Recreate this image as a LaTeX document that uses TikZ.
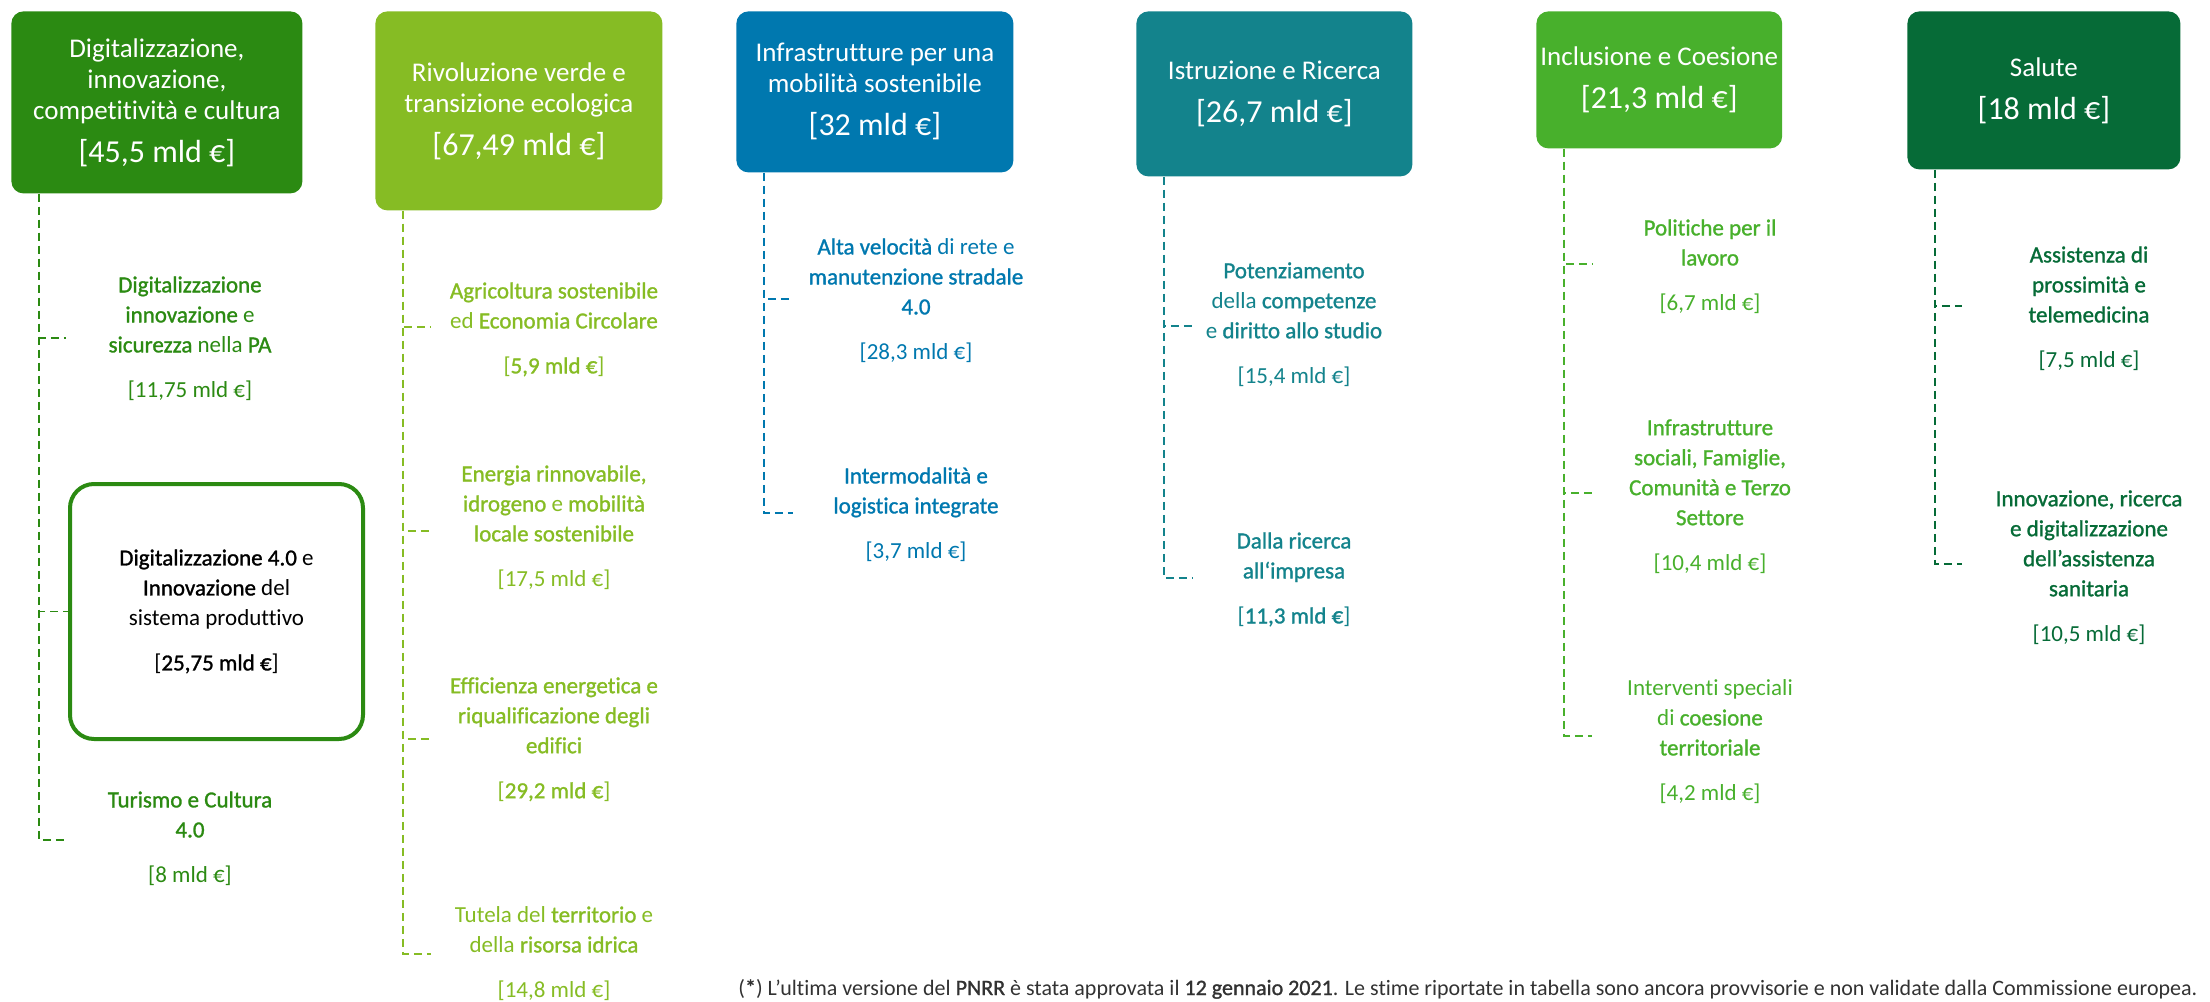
\documentclass[tikz,border=0pt]{standalone}
\usepackage{fontspec}
\setmainfont{Carlito}[Ligatures=NoCommon]
\newfontfamily\heavyfont[FakeBold=1.2, Ligatures=NoCommon]{Carlito}
\newcommand{\hi}[1]{{\heavyfont #1}}
\newcommand{\amt}[1]{{\fontsize{16}{19}\selectfont #1}}
\usepackage{tikz}
\usetikzlibrary{positioning}
\definecolor{digi}{RGB}{43,138,18}
\definecolor{verde}{RGB}{134,188,36}
\definecolor{mobi}{RGB}{0,120,175}
\definecolor{istr}{RGB}{19,131,140}
\definecolor{incl}{RGB}{72,176,44}
\definecolor{salu}{RGB}{6,107,55}
\definecolor{note}{RGB}{50,50,50}
\tikzset{
        mission/.style={rounded corners=6pt, fill=#1, text=white, align=center,
                        anchor=north west, inner sep=2pt,
                        font=\fontsize{13.5}{15.5}\selectfont},
        item/.style={text=#1, align=center, anchor=north, inner sep=0pt,
                     font=\fontsize{11.5}{15}\selectfont},
        focus/.style={draw=digi, line width=2pt, rounded corners=12pt, fill=white,
                      align=center, anchor=north west, minimum width=146.5pt,
                      minimum height=127.5pt, font=\fontsize{11.5}{15}\selectfont},
        link/.style={draw=#1, dash pattern=on 4pt off 2.5pt, line width=0.9pt},
 }

\begin{document}
\begin{tikzpicture}[x=0.5pt, y=-0.5pt]
    \useasboundingbox (0,0) rectangle (2210,1001);

    % missioni
    \node[mission=digi, minimum width=145.5pt, minimum height=91pt] (b1) at (11,11)
        {Digitalizzazione,\\ innovazione,\\ competitività e cultura\\[6pt] \amt{[45,5 mld €]}};
    \node[mission=verde, minimum width=143.5pt, minimum height=99.5pt] (b2) at (375,11)
        {Rivoluzione verde e\\ transizione ecologica\\[6pt] \amt{[67,49 mld €]}};
    \node[mission=mobi, minimum width=138.5pt, minimum height=80.5pt] (b3) at (736,11)
        {Infrastrutture per una\\ mobilità sostenibile\\[6pt] \amt{[32 mld €]}};
    \node[mission=istr, minimum width=138pt, minimum height=82.5pt] (b4) at (1136,11)
        {Istruzione e Ricerca\\[6pt] \amt{[26,7 mld €]}};
    \node[mission=incl, minimum width=101pt, minimum height=68.5pt] (b5) at (1536,11)
        {Inclusione e Coesione\\[6pt] \amt{[21,3 mld €]}};
    \node[mission=salu, minimum width=136.5pt, minimum height=79pt] (b6) at (1907,11)
        {Salute\\[6pt] \amt{[18 mld €]}};

    % componenti
    \node[item=digi] (i11) at (190,276)
        {\hi{Digitalizzazione}\\ \hi{innovazione} e\\ \hi{sicurezza} nella \hi{PA}\\[7.5pt] [11,75 mld €]};
    \node[focus] (i12) at (68,482)
        {\hi{Digitalizzazione 4.0} e\\ \hi{Innovazione} del\\ sistema produttivo\\[7.5pt] [\hi{25,75 mld €}]};
    \node[item=digi] (i13) at (190,791)
        {\hi{Turismo e Cultura}\\ \hi{4.0}\\[7.5pt] [8 mld €]};

    \node[item=verde] (i21) at (554,282)
        {\hi{Agricoltura sostenibile}\\ ed \hi{Economia Circolare}\\[7.5pt] [\hi{5,9 mld €}]};
    \node[item=verde] (i22) at (554,465)
        {\hi{Energia rinnovabile,}\\ \hi{idrogeno} e \hi{mobilità}\\ \hi{locale sostenibile}\\[7.5pt] [17,5 mld €]};
    \node[item=verde] (i23) at (554,677)
        {\hi{Efficienza energetica e}\\ \hi{riqualificazione degli}\\ \hi{edifici}\\[7.5pt] [\hi{29,2 mld €}]};
    \node[item=verde] (i24) at (554,906)
        {Tutela del \hi{territorio} e\\ della \hi{risorsa idrica}\\[7.5pt] [14,8 mld €]};

    \node[item=mobi] (i31) at (916,238)
        {\hi{Alta velocità} di rete e\\ \hi{manutenzione stradale}\\ \hi{4.0}\\[7.5pt] [28,3 mld €]};
    \node[item=mobi] (i32) at (916,467)
        {\hi{Intermodalità e}\\ \hi{logistica integrate}\\[7.5pt] [3,7 mld €]};

    \node[item=istr] (i41) at (1294,262)
        {\hi{Potenziamento}\\ della \hi{competenze}\\ e \hi{diritto allo studio}\\[7.5pt] [15,4 mld €]};
    \node[item=istr] (i42) at (1294,532)
        {\hi{Dalla ricerca}\\ \hi{all‘impresa}\\[7.5pt] [\hi{11,3 mld €}]};

    \node[item=incl] (i51) at (1710,219)
        {\hi{Politiche per il}\\ \hi{lavoro}\\[7.5pt] [6,7 mld €]};
    \node[item=incl] (i52) at (1710,419)
        {\hi{Infrastrutture}\\ \hi{sociali, Famiglie,}\\ \hi{Comunità e Terzo}\\ \hi{Settore}\\[7.5pt] [10,4 mld €]};
    \node[item=incl] (i53) at (1710,679)
        {Interventi speciali\\ di \hi{coesione}\\ \hi{territoriale}\\[7.5pt] [4,2 mld €]};

    \node[item=salu] (i61) at (2089,246)
        {\hi{Assistenza di}\\ \hi{prossimità e}\\ \hi{telemedicina}\\[7.5pt] [7,5 mld €]};
    \node[item=salu] (i62) at (2089,490)
        {\hi{Innovazione, ricerca}\\ \hi{e digitalizzazione}\\ \hi{dell’assistenza}\\ \hi{sanitaria}\\[7.5pt] [10,5 mld €]};

    % estremi dei rami
    \coordinate (t11) at (66,338);
    \coordinate (t13) at (66,840);
    \coordinate (t21) at (431,327);
    \coordinate (t22) at (431,531);
    \coordinate (t23) at (431,739);
    \coordinate (t24) at (431,954);
    \coordinate (t31) at (793,299);
    \coordinate (t32) at (793,513);
    \coordinate (t41) at (1192,326);
    \coordinate (t42) at (1192,578);
    \coordinate (t51) at (1592,264);
    \coordinate (t52) at (1592,493);
    \coordinate (t53) at (1592,736);
    \coordinate (t61) at (1962,306);
    \coordinate (t62) at (1962,564);

    \draw[link=digi] (b1.south west) ++(28,0) |- (t11);
    \draw[link=digi] (b1.south west) ++(28,0) |- (i12.west);
    \draw[link=digi] (b1.south west) ++(28,0) |- (t13);
    \draw[link=verde] (b2.south west) ++(28,0) |- (t21);
    \draw[link=verde] (b2.south west) ++(28,0) |- (t22);
    \draw[link=verde] (b2.south west) ++(28,0) |- (t23);
    \draw[link=verde] (b2.south west) ++(28,0) |- (t24);
    \draw[link=mobi] (b3.south west) ++(28,0) |- (t31);
    \draw[link=mobi] (b3.south west) ++(28,0) |- (t32);
    \draw[link=istr] (b4.south west) ++(28,0) |- (t41);
    \draw[link=istr] (b4.south west) ++(28,0) |- (t42);
    \draw[link=incl] (b5.south west) ++(28,0) |- (t51);
    \draw[link=incl] (b5.south west) ++(28,0) |- (t52);
    \draw[link=incl] (b5.south west) ++(28,0) |- (t53);
    \draw[link=salu] (b6.south west) ++(28,0) |- (t61);
    \draw[link=salu] (b6.south west) ++(28,0) |- (t62);

    % nota
    \node[anchor=base west, inner sep=0pt, text=note, font=\fontsize{11}{13}\selectfont] (fn) at (738,995)
        {(\hi{*}) L’ultima versione del \hi{PNRR} è stata approvata il \hi{12 gennaio 2021}. Le stime riportate in tabella sono ancora provvisorie e non validate dalla Commissione europea.};
\end{tikzpicture}
\end{document}
